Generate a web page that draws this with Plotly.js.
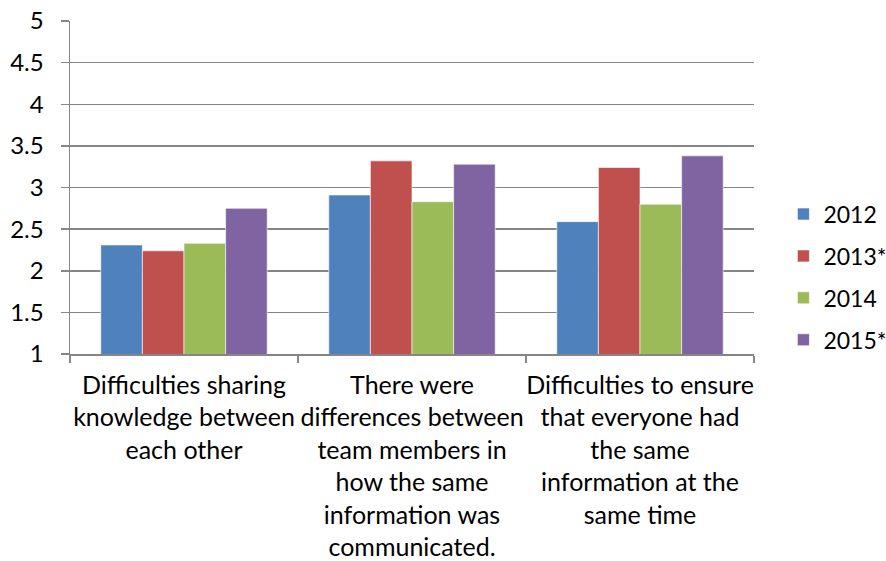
<!DOCTYPE html>
<html>
<head>
<meta charset="utf-8">
<script src="https://cdn.plot.ly/plotly-3.0.1.min.js"></script>
<style>html,body{margin:0;padding:0;background:#fff;}#chart{width:886px;height:561px;}</style>
</head>
<body>
<div id="chart"></div>
<script>
const categories = [
  "Difficulties sharing<br>knowledge between<br>each other",
  "There were<br>differences between<br>team members in<br>how the same<br>information was<br>communicated.",
  "Difficulties to ensure<br>that everyone had<br>the same<br>information at the<br>same time"
];
const seriesNames = ["2012", "2013*", "2014", "2015*"];
const values2012 = [2.31, 2.91, 2.59];
const values2013 = [2.24, 3.32, 3.24];
const values2014 = [2.33, 2.83, 2.80];
const values2015 = [2.75, 3.28, 3.38];
const colors = ["#4F81BD", "#C0504D", "#9BBB59", "#8064A2"];
const yTicks = [1, 1.5, 2, 2.5, 3, 3.5, 4, 4.5, 5];

const allValues = [values2012, values2013, values2014, values2015];
const traces = allValues.map((v, i) => ({
  type: "bar",
  name: seriesNames[i],
  x: categories,
  y: v,
  base: 0,
  legendgroup: "g" + i,
  marker: {color: colors[i], line: {color: "rgba(255,255,255,0.6)", width: 1}},
  hoverinfo: "skip"
}));

const FONT = "Lato, 'Open Sans', sans-serif";
const layout = {
  width: 886, height: 561,
  margin: {l: 70, r: 132, t: 21, b: 207, autoexpand: false},
  paper_bgcolor: "#fff", plot_bgcolor: "#fff",
  font: {family: FONT, size: 23, color: "#000"},
  barmode: "group",
  bargap: 0.27,
  bargroupgap: 0,
  showlegend: true,
  legend: {
    x: 1.043, xanchor: "left", y: 0.231, yanchor: "middle",
    font: {family: FONT, size: 23, color: "#000"},
    traceorder: "grouped",
    tracegroupgap: 9,
    itemwidth: 30,
    bgcolor: "rgba(0,0,0,0)"
  },
  xaxis: {
    type: "category",
    tickson: "boundaries",
    tickangle: 0,
    ticks: "outside", ticklen: 7, tickcolor: "#868686", tickwidth: 1.5,
    showline: true, linecolor: "#868686", linewidth: 1.5,
    showgrid: false,
    tickfont: {family: FONT, size: 25, color: "#000"},
    ticklabelstandoff: 8,
    fixedrange: true
  },
  yaxis: {
    range: [1, 5],
    tickvals: yTicks,
    ticktext: yTicks.map(String),
    ticks: "outside", ticklen: 8, tickcolor: "#868686", tickwidth: 1.5,
    showline: true, linecolor: "#868686", linewidth: 1.5,
    showgrid: true, gridcolor: "#868686", gridwidth: 1.5,
    zeroline: false,
    tickfont: {family: FONT, size: 24, color: "#000"},
    ticklabelstandoff: 12,
    fixedrange: true
  }
};

Plotly.newPlot("chart", traces, layout, {displayModeBar: false, staticPlot: true});
</script>
</body>
</html>
